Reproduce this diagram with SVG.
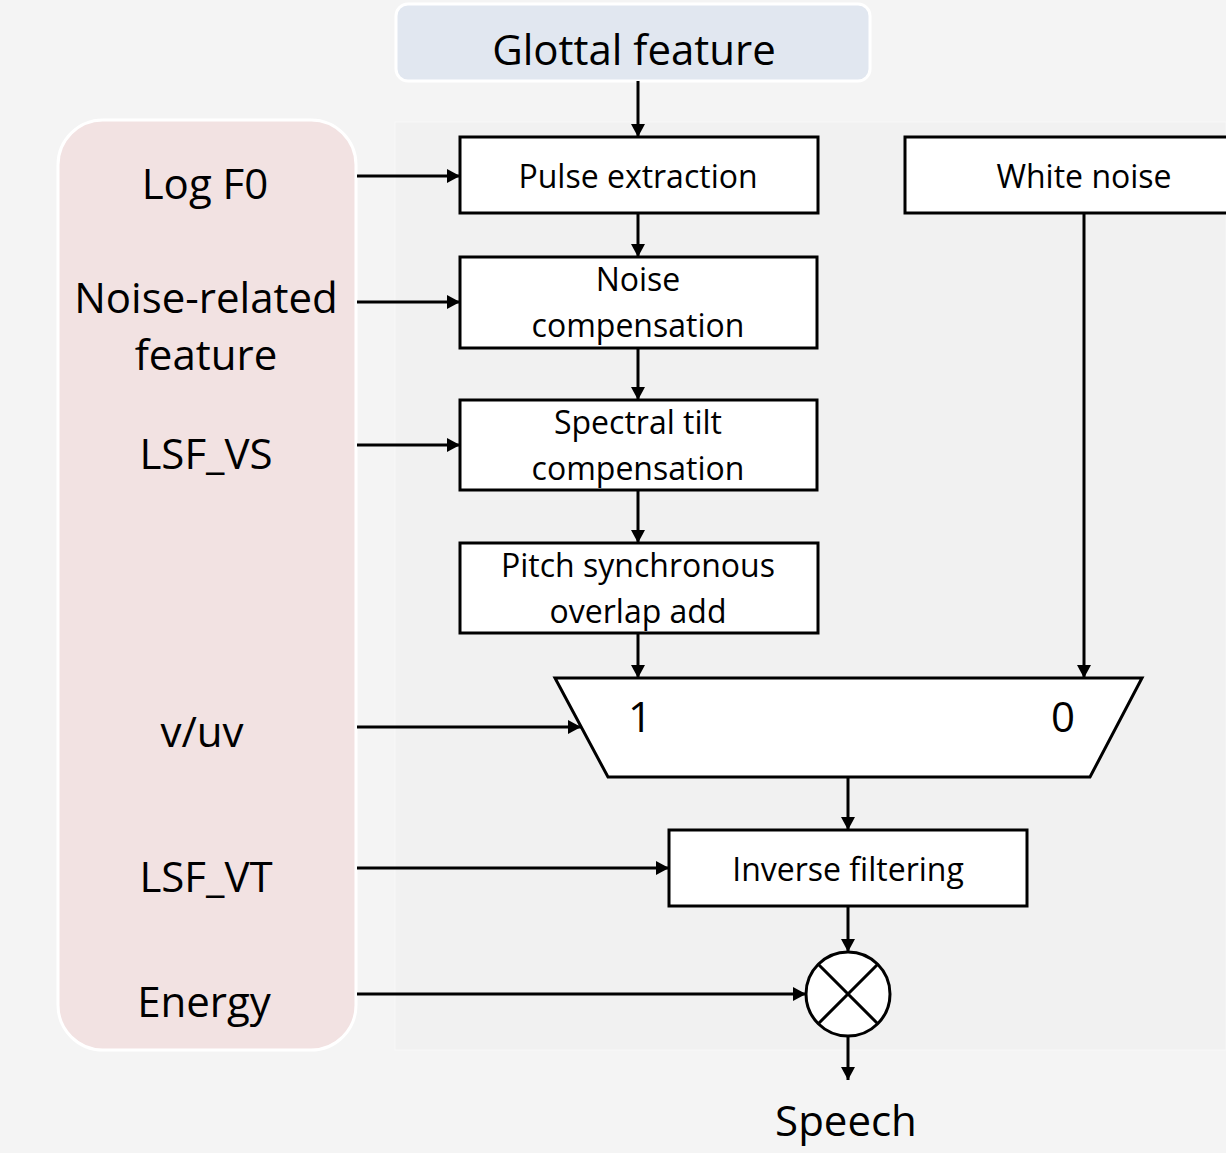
<svg xmlns="http://www.w3.org/2000/svg" width="1226" height="1153" viewBox="0 0 1226 1153">
<defs>
<marker id="ah" viewBox="0 0 13 14" refX="13" refY="7" markerWidth="13" markerHeight="14" markerUnits="userSpaceOnUse" orient="auto">
<path d="M0,0 L13,7 L0,14 z" fill="#000"/>
</marker>
</defs>
<style>
.t{font-family:"Open Sans","Noto Sans","Liberation Sans",sans-serif;fill:#000;text-anchor:middle}
.big{font-size:42px}
.box{font-size:32px}
.b{fill:#fff;stroke:#000;stroke-width:3}
.c{stroke:#000;stroke-width:3;fill:none;marker-end:url(#ah)}
</style>
<rect x="0" y="0" width="1226" height="1153" fill="#f4f4f4"/>
<rect x="395" y="122" width="831" height="928" fill="#f1f1f1" stroke="#f7f7f7" stroke-width="1"/>

<g id="glottal">
<rect x="396" y="4" width="474" height="77" rx="12" fill="#e1e7f0" stroke="#fff" stroke-width="3"/>
<text class="t big" x="634" y="65">Glottal feature</text>
</g>

<g id="inputs">
<rect x="58" y="120" width="298" height="930" rx="45" fill="#f2e2e2" stroke="#fff" stroke-width="3"/>
<text class="t big" x="205" y="199">Log F0</text>
<text class="t big" x="206" y="313">Noise-related</text>
<text class="t big" x="206" y="370">feature</text>
<text class="t big" x="206" y="469">LSF_VS</text>
<text class="t big" x="202" y="747">v/uv</text>
<text class="t big" x="206" y="892">LSF_VT</text>
<text class="t big" x="204" y="1017">Energy</text>
</g>

<g id="pulse">
<rect class="b" x="460" y="137" width="358" height="76"/>
<text class="t box" x="638" y="188">Pulse extraction</text>
</g>
<g id="noisecomp">
<rect class="b" x="460" y="257" width="357" height="91"/>
<text class="t box" x="638" y="291">Noise</text>
<text class="t box" x="638" y="337">compensation</text>
</g>
<g id="tilt">
<rect class="b" x="460" y="400" width="357" height="90"/>
<text class="t box" x="638" y="434">Spectral tilt</text>
<text class="t box" x="638" y="480">compensation</text>
</g>
<g id="psola">
<rect class="b" x="460" y="543" width="358" height="90"/>
<text class="t box" x="638" y="577">Pitch synchronous</text>
<text class="t box" x="638" y="623">overlap add</text>
</g>
<g id="whitenoise">
<rect class="b" x="905" y="137" width="330" height="76"/>
<text class="t box" x="1084" y="188">White noise</text>
</g>
<g id="switch">
<path class="b" d="M555,678 L1142,678 L1090,777 L608,777 Z"/>
<text class="t big" x="640" y="732">1</text>
<text class="t big" x="1063" y="732">0</text>
</g>
<g id="invfilt">
<rect class="b" x="669" y="830" width="358" height="76"/>
<text class="t box" x="848" y="881">Inverse filtering</text>
</g>
<g id="mult">
<circle class="b" cx="848" cy="994" r="42"/>
<path d="M818,964 L878,1024 M878,964 L818,1024" stroke="#000" stroke-width="3"/>
</g>
<g id="speech">
<text class="t big" x="846" y="1136">Speech</text>
</g>

<g id="connectors">
<path class="c" d="M638,81 V137"/>
<path class="c" d="M638,213 V257"/>
<path class="c" d="M638,348 V400"/>
<path class="c" d="M638,490 V543"/>
<path class="c" d="M638,633 V678"/>
<path class="c" d="M1084,213 V678"/>
<path class="c" d="M848,777 V830"/>
<path class="c" d="M848,906 V952"/>
<path class="c" d="M848,1036 V1080"/>
<path class="c" d="M357,176 H460"/>
<path class="c" d="M357,302 H460"/>
<path class="c" d="M357,445 H460"/>
<path class="c" d="M357,727 H581"/>
<path class="c" d="M357,868 H669"/>
<path class="c" d="M357,994 H806"/>
</g>
</svg>
